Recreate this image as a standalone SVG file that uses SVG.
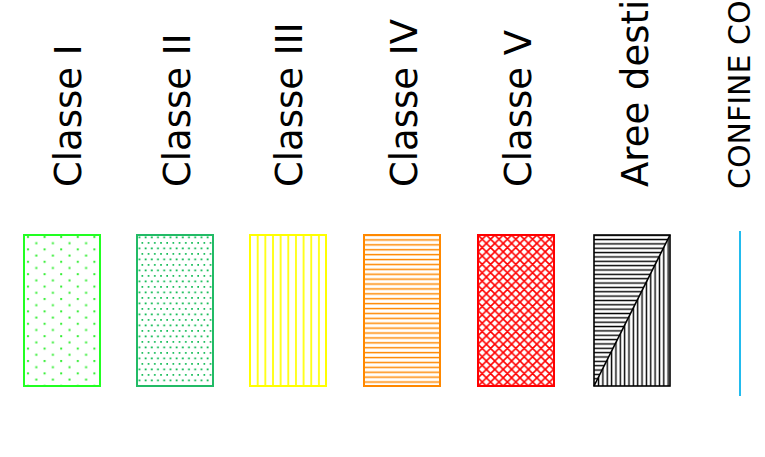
<svg xmlns="http://www.w3.org/2000/svg" width="765" height="457" viewBox="0 0 765 457">
<style>
.lbl{font-family:"DejaVu Sans","Liberation Sans",sans-serif;font-size:37px;fill:#000}
.lbl2{font-family:"DejaVu Sans","Liberation Sans",sans-serif;font-size:30px;fill:#000}
.box{stroke-width:2}
</style>
<defs>
<pattern id="p1" patternUnits="userSpaceOnUse" x="24" y="235" width="16.6" height="12.4">
<rect x="3" y="1" width="2" height="2" fill="#33ee33"/>
<rect x="11.3" y="7.2" width="2" height="2" fill="#33ee33"/>
</pattern>
<pattern id="p2" patternUnits="userSpaceOnUse" x="137" y="235" width="6.2" height="11">
<rect x="1.5" y="1.5" width="1.8" height="1.8" fill="#11bb55"/>
<rect x="4.6" y="7" width="1.8" height="1.8" fill="#11bb55"/>
</pattern>
<pattern id="p3" patternUnits="userSpaceOnUse" x="246.2" y="235" width="7.65" height="10">
<rect x="3" y="0" width="1.7" height="10" fill="#ffff00"/>
</pattern>
<pattern id="p4" patternUnits="userSpaceOnUse" x="364" y="232.5" width="10" height="4.9">
<rect x="0" y="1.8" width="10" height="1.5" fill="#ff8800"/>
</pattern>
<pattern id="p5" patternUnits="userSpaceOnUse" x="478" y="235" width="8.4" height="8.4">
<path d="M-1,-1 L9.4,9.4 M-1,7.4 L1,9.4 M7.4,-1 L9.4,1 M9.4,-1 L-1,9.4 M1,-1 L-1,1 M9.4,7.4 L7.4,9.4" stroke="#ff0000" stroke-width="1.6" fill="none"/>
</pattern>
<pattern id="p6h" patternUnits="userSpaceOnUse" x="594" y="233" width="10" height="4.35">
<rect x="0" y="1.5" width="10" height="1.4" fill="#000"/>
</pattern>
<pattern id="p6v" patternUnits="userSpaceOnUse" x="592" y="235" width="4.35" height="10">
<rect x="1.5" y="0" width="1.4" height="10" fill="#000"/>
</pattern>
</defs>
<g id="classe1">
<rect x="24" y="235" width="76" height="151" fill="url(#p1)" stroke="#22ff22" class="box"/>
<text class="lbl" transform="translate(81,187) rotate(-90)">Classe I</text>
</g>
<g id="classe2">
<rect x="137" y="235" width="76" height="151" fill="url(#p2)" stroke="#22bb66" class="box"/>
<text class="lbl" transform="translate(190,187) rotate(-90)">Classe II</text>
</g>
<g id="classe3">
<rect x="250" y="235" width="76" height="151" fill="url(#p3)" stroke="#ffff00" class="box"/>
<text class="lbl" transform="translate(302,187) rotate(-90)">Classe III</text>
</g>
<g id="classe4">
<rect x="364" y="235" width="76" height="151" fill="url(#p4)" stroke="#ff8800" class="box"/>
<text class="lbl" transform="translate(417,187) rotate(-90)">Classe IV</text>
</g>
<g id="classe5">
<rect x="478" y="235" width="76" height="151" fill="url(#p5)" stroke="#ff0000" class="box"/>
<text class="lbl" transform="translate(531,187) rotate(-90)">Classe V</text>
</g>
<g id="aree">
<polygon points="594,235 670,235 594,386" fill="url(#p6h)"/>
<polygon points="670,235 670,386 594,386" fill="url(#p6v)"/>
<rect x="594" y="235" width="76" height="151" fill="none" stroke="#000" stroke-width="1.6"/>
<line x1="594" y1="386" x2="670" y2="235" stroke="#000" stroke-width="1.6"/>
<text class="lbl" transform="translate(648,187) rotate(-90)">Aree desti</text>
</g>
<g id="confine">
<text class="lbl2" transform="translate(750,189) rotate(-90)">CONFINE CO</text>
</g>
<g id="connectors">
<line x1="740" y1="231" x2="740" y2="396" stroke="#22bbee" stroke-width="2"/>
</g>
</svg>
